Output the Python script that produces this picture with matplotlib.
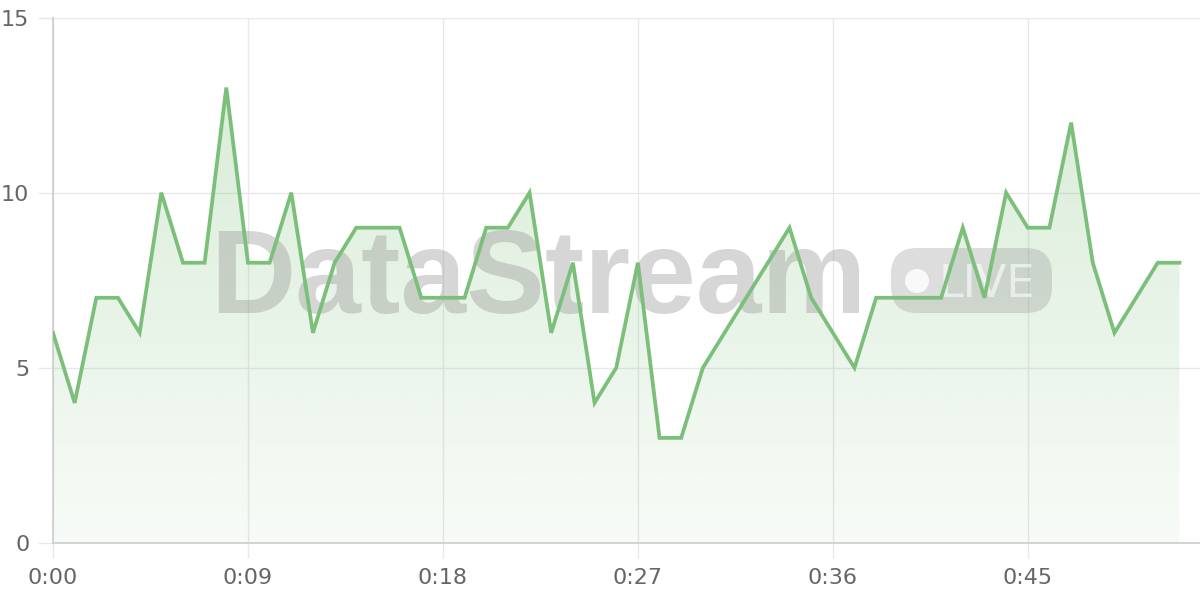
import numpy as np
import matplotlib.pyplot as plt
from matplotlib.patches import FancyBboxPatch, Circle
from matplotlib.transforms import IdentityTransform
from matplotlib.colors import to_rgb

# one reading per second, 0:00 .. 0:52
seconds = list(range(53))
values = [6, 4, 7, 7, 6, 10, 8, 8, 13, 8, 8, 10, 6, 8, 9, 9, 9, 7, 7, 7,
          9, 9, 10, 6, 8, 4, 5, 8, 3, 3, 5, 6, 7, 8, 9, 7, 6, 5, 7, 7,
          7, 7, 9, 7, 10, 9, 9, 12, 8, 6, 7, 8, 8]
x_ticks = [0, 9, 18, 27, 36, 45]
x_ticklabels = ['0:00', '0:09', '0:18', '0:27', '0:36', '0:45']
y_ticks = [0, 5, 10, 15]

line_color = '#7cbf7a'
grid_color = '#e8e8e8'
text_color = '#666666'

fig = plt.figure(figsize=(12, 6), dpi=100)
ax = fig.add_axes([53 / 1200, 57 / 600, 1 - 53 / 1200, 525.5 / 600])

# gradient area under the line
ymax = max(values)
rgba = np.zeros((256, 1, 4))
rgba[..., :3] = to_rgb(line_color)
rgba[..., 3] = np.linspace(0.06, 0.29, 256)[:, None]
im = ax.imshow(rgba, extent=[seconds[0], seconds[-1], 0, ymax], origin='lower',
               aspect='auto', zorder=1, interpolation='bilinear')
area = ax.fill_between(seconds, values, 0, facecolor='none', edgecolor='none')
im.set_clip_path(area.get_paths()[0], transform=ax.transData)

ax.plot(seconds, values, color=line_color, lw=2.7, zorder=3,
        solid_joinstyle='miter')

ax.set_xlim(0, 52.95)
ax.set_ylim(0, 15)
ax.set_xticks(x_ticks)
ax.set_xticklabels(x_ticklabels)
ax.set_yticks(y_ticks)
ax.grid(True, color=grid_color, lw=1, zorder=0)
ax.set_axisbelow(True)
for s in ['top', 'right']:
    ax.spines[s].set_visible(False)
for s in ['left', 'bottom']:
    ax.spines[s].set_color('#d0d0d0')
    ax.spines[s].set_linewidth(1.3)
ax.tick_params(axis='both', length=11, width=1, color=grid_color,
               labelcolor=text_color, labelsize=16)
ax.tick_params(axis='x', pad=7)
ax.tick_params(axis='y', pad=6)

# watermark
wm = dict(transform=IdentityTransform(), zorder=2, clip_on=False)
ax.text(210, 287, 'DataStream', fontsize=85, fontweight='bold',
        family='Liberation Sans', color='#999999', alpha=0.4,
        ha='left', va='baseline', **wm)
badge = FancyBboxPatch((891, 287), 161, 65,
                       boxstyle='round,pad=0,rounding_size=26',
                       facecolor='#999999', edgecolor='none', alpha=0.33, **wm)
ax.add_patch(badge)
ax.add_patch(Circle((917, 319), 12, facecolor='white', edgecolor='none',
                    alpha=0.85, **wm))
ax.text(939, 303, 'LIVE', fontsize=32, family='DejaVu Sans',
        color='white', alpha=0.6, ha='left', va='baseline', **wm)

fig.savefig('out.png', dpi=100)
